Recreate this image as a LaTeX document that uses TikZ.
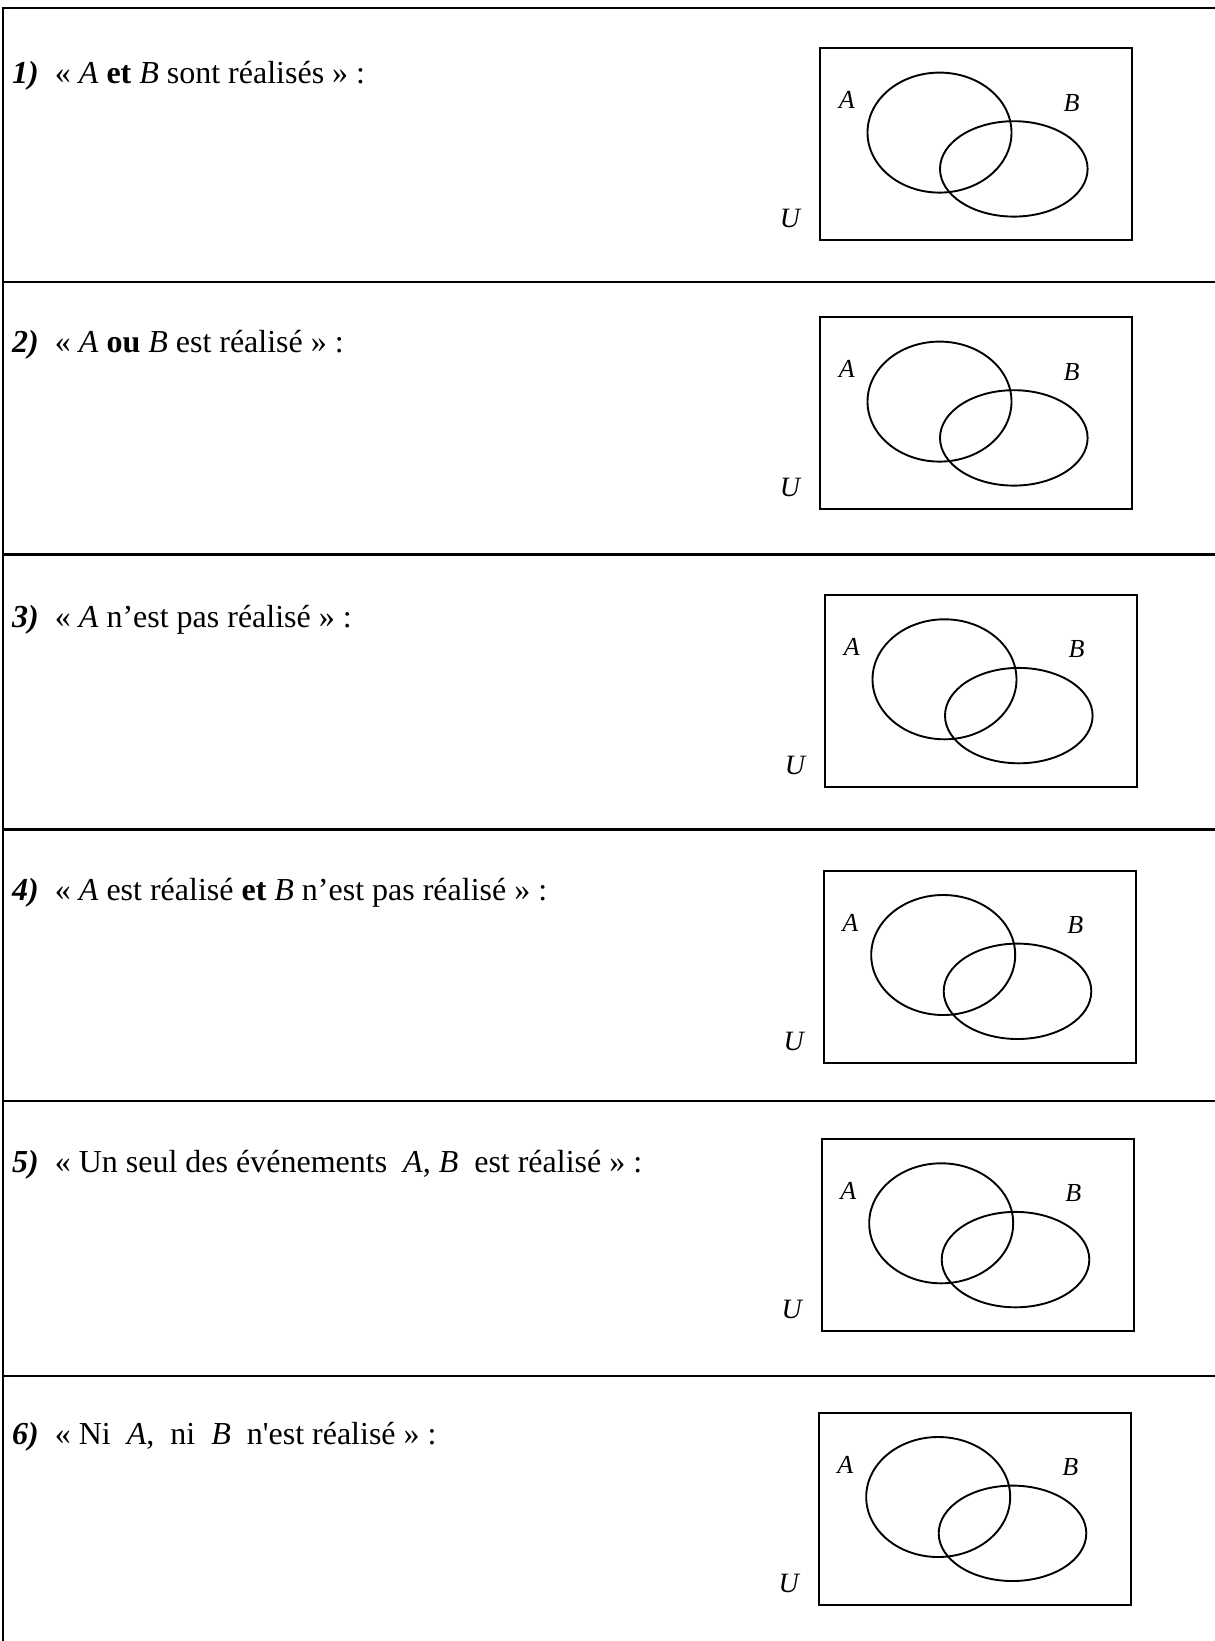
\documentclass[tikz,border=0pt]{standalone}
\usepackage{fontspec}
\setmainfont{Liberation Serif}
\newcommand{\straightapos}{\XeTeXglyph\XeTeXcharglyph"27\relax}
\begin{document}
\begin{tikzpicture}[x=1pt,y=-1pt,
  rule/.style={line width=2.6pt},
  frame/.style={line width=2.1pt},
  set/.style={line width=1.9pt},
  qtext/.style={anchor=base west, inner sep=0pt, font=\fontsize{32}{38}\selectfont},
  setlab/.style={inner sep=0pt, font=\fontsize{26}{31}\selectfont\itshape},
  ulab/.style={inner sep=0pt, font=\fontsize{28}{33}\selectfont\itshape},
  venn/.pic={
    \draw[frame] (0,0) rectangle (312.3,192);
    \draw[set] (119.5,84.3) ellipse [x radius=72pt, y radius=60pt];
    \draw[set] (193.8,120.6) ellipse [x radius=73.8pt, y radius=47.7pt];
    \node[setlab] (-A) at (26.7,52) {A};
    \node[setlab] (-B) at (251.5,54.4) {B};
    \node[ulab] (-U) at (-30,170.5) {U};
  }]
\useasboundingbox (0,0) rectangle (1215,1641);
% table rules
\coordinate (tl) at (3,8);
\coordinate (tr) at (1215,8);
\coordinate (bl) at (3,1641);
\draw[rule] (tr) -- (tl) -- (bl);
\foreach \yy in {282,554.6,829.3,1101,1376}
  \draw[rule] (3,\yy) -- (1215,\yy);
% questions
\node[qtext] (q1) at (12,83) {\textbf{\textit{1)}}\hspace{0.5em}« \textit{A} \textbf{et} \textit{B} sont réalisés » :};
\node[qtext] (q2) at (12,352) {\textbf{\textit{2)}}\hspace{0.5em}« \textit{A} \textbf{ou} \textit{B} est réalisé » :};
\node[qtext] (q3) at (12,627) {\textbf{\textit{3)}}\hspace{0.5em}« \textit{A} n’est pas réalisé » :};
\node[qtext] (q4) at (12,900) {\textbf{\textit{4)}}\hspace{0.5em}« \textit{A} est réalisé \textbf{et} \textit{B} n’est pas réalisé » :};
\node[qtext] (q5) at (12,1172) {\textbf{\textit{5)}}\hspace{0.5em}« Un seul des événements~ \textit{A}, \textit{B}~ est réalisé » :};
\node[qtext] (q6) at (12,1444) {\textbf{\textit{6)}}\hspace{0.5em}« Ni~ \textit{A},~ ni~ \textit{B}~ n\straightapos est réalisé » :};
% Venn diagrams
\pic (v1) at (820,48.3) {venn};
\pic (v2) at (820,317.3) {venn};
\pic (v3) at (825,595) {venn};
\pic (v4) at (823.7,870.7) {venn};
\pic (v5) at (821.7,1139) {venn};
\pic (v6) at (818.7,1412.7) {venn};
\end{tikzpicture}
\end{document}
